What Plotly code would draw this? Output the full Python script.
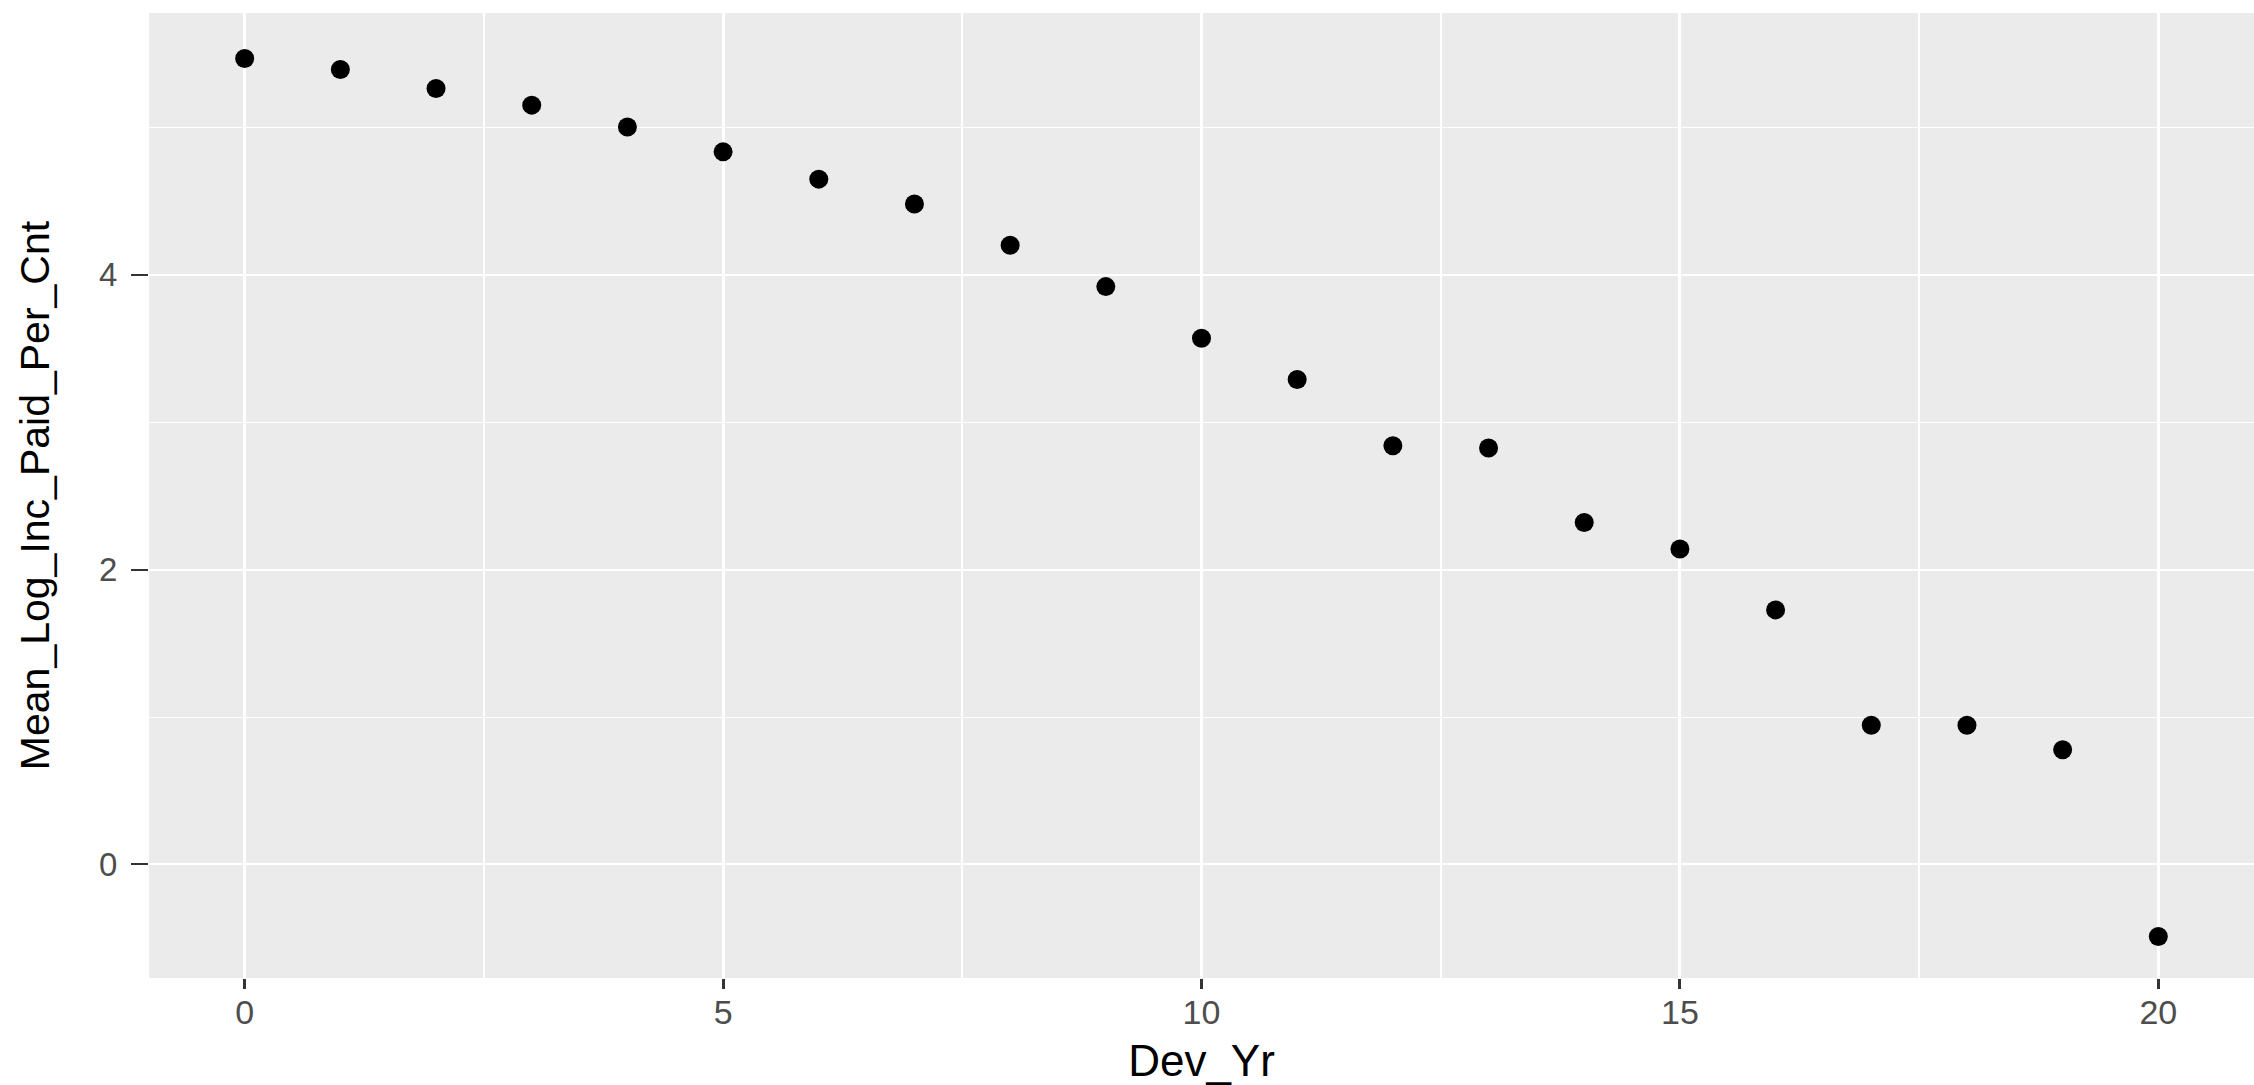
import plotly.graph_objects as go

dev_yr = list(range(21))
mean_log_inc_paid_per_cnt = [5.467, 5.393, 5.264, 5.151, 5.003, 4.834, 4.649, 4.481, 4.20,
                             3.92, 3.57, 3.29, 2.84, 2.825, 2.32, 2.14, 1.727, 0.945,
                             0.945, 0.778, -0.488]
x_ticks = [0, 5, 10, 15, 20]
y_ticks = [0, 2, 4]

FONT = "Liberation Sans, Arial, sans-serif"

fig = go.Figure(go.Scatter(
    x=dev_yr, y=mean_log_inc_paid_per_cnt, mode="markers",
    marker=dict(color="black", size=19, line=dict(width=0)),
    showlegend=False,
))

fig.update_layout(
    width=2254, height=1085,
    margin=dict(l=149, r=0, t=13, b=107, pad=0),
    paper_bgcolor="white", plot_bgcolor="#EBEBEB",
    font=dict(family=FONT),
)
fig.update_xaxes(
    automargin=False,
    range=[-1, 21], tickmode="array", tickvals=x_ticks,
    ticktext=[str(v) for v in x_ticks],
    showgrid=True, gridcolor="white", gridwidth=3,
    minor=dict(tickmode="array", tickvals=[2.5, 7.5, 12.5, 17.5], showgrid=True,
               gridcolor="white", gridwidth=1.5, ticks=""),
    zeroline=False, showline=False,
    ticks="outside", ticklen=10, tickwidth=3, tickcolor="#333333",
    ticklabelstandoff=-6,
    tickfont=dict(size=34, color="#4D4D4D", family=FONT),
    title=dict(text="Dev_Yr", font=dict(size=44, color="black", family=FONT), standoff=36),
)
fig.update_yaxes(
    automargin=False,
    range=[-0.77, 5.776], tickmode="array", tickvals=y_ticks,
    ticktext=[str(v) for v in y_ticks],
    showgrid=True, gridcolor="white", gridwidth=2.2,
    minor=dict(tickmode="array", tickvals=[1, 3, 5], showgrid=True,
               gridcolor="white", gridwidth=1.1, ticks=""),
    zeroline=False, showline=False,
    ticks="outside", ticklen=17, tickwidth=2, tickcolor="#333333",
    ticklabelstandoff=7,
    tickfont=dict(size=33, color="#4D4D4D", family=FONT),
    title=dict(text="Mean_Log_Inc_Paid_Per_Cnt", font=dict(size=41, color="black", family=FONT), standoff=36),
)

fig.write_html(
    "out.html",
    config={"displayModeBar": False},
    post_script="document.body.style.margin='0';document.body.style.overflow='hidden';",
)
